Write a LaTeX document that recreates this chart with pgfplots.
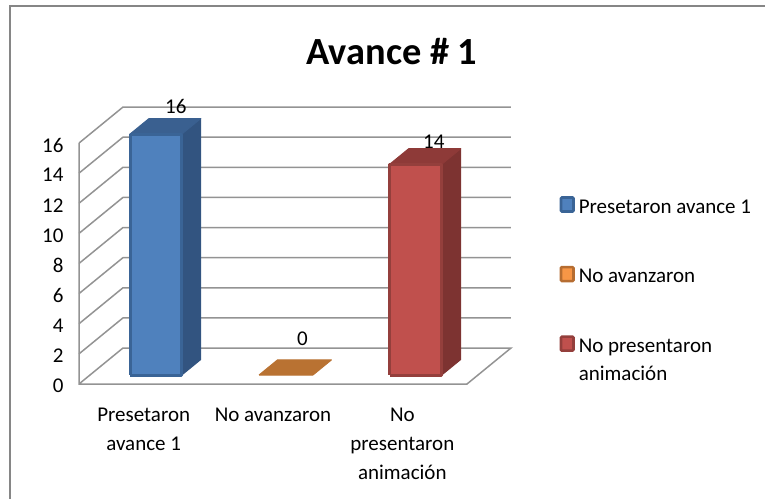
\documentclass[border=0pt]{standalone}
\usepackage{pgfplots}
\pgfplotsset{compat=1.18}
\usepackage{fontspec}
\setmainfont{Carlito}
\definecolor{wallline}{HTML}{939393}
\definecolor{framegray}{HTML}{868686}
\definecolor{blueF}{HTML}{4F81BD}
\definecolor{blueE}{HTML}{3A6496}
\definecolor{blueS}{HTML}{325480}
\definecolor{blueT}{HTML}{3A6090}
\definecolor{orangeF}{HTML}{F79646}
\definecolor{orangeE}{HTML}{B66D31}
\definecolor{orangeT}{HTML}{B97232}
\definecolor{redF}{HTML}{C0504D}
\definecolor{redE}{HTML}{943F3C}
\definecolor{redS}{HTML}{7D3331}
\definecolor{redT}{HTML}{8E3A38}

% one 3D column: x0, x1, value, front, edge, side, top
\newcommand{\column}[7]{%
  \addplot3[forget plot,fill=#6,draw=#6,line width=1pt,line join=round] coordinates {(#2,0.25,0)(#2,0.68,0)(#2,0.68,#3)(#2,0.25,#3)(#2,0.25,0)};
  \addplot3[forget plot,fill=#7,draw=#7,line width=1pt,line join=round] coordinates {(#1,0.25,#3)(#2,0.25,#3)(#2,0.68,#3)(#1,0.68,#3)(#1,0.25,#3)};
  \addplot3[forget plot,fill=#4,draw=#5,line width=3pt,line join=round] coordinates {(#1,0.25,0)(#2,0.25,0)(#2,0.25,#3)(#1,0.25,#3)(#1,0.25,0)};
}
% value label: x, value, vertical offset
\newcommand{\valuelabel}[3]{%
  \addplot3[forget plot,draw=none,mark=none,point meta=z,nodes near coords,
    nodes near coords style={font=\fontsize{21}{24}\selectfont,anchor=south,yshift=#3,
      /pgf/number format/assume math mode=true,inner sep=1pt}]
    coordinates {(#1,0.7,#2)};
}
\pgfplotsset{
  swatch/.style n args={2}{legend image code/.code={
    \draw[fill=#1,draw=#2,line width=2.6pt,rounded corners=1pt] (0pt,-7.5pt) rectangle (12.5pt,6.5pt);}},
}
% keeps the rows of the legend evenly spaced
\newcommand{\rowheight}{\rule{0pt}{19.6pt}}
\begin{document}
\begin{tikzpicture}[x=1pt,y=1pt]
\path[use as bounding box] (0,0) rectangle (765,498);
\draw[framegray,line width=2pt] (10,-5) -- (10,492) -- (775,492);
\node[font=\fontsize{38.4}{44}\selectfont\bfseries] at (392,446) {Avance \# 1};
\begin{axis}[
  at={(79pt,114pt)},anchor=origin,
  x={(129.33pt,0pt)},y={(44pt,36pt)},z={(0pt,15.06pt)},
  xmin=0,xmax=3,ymin=0,ymax=1,zmin=0,zmax=16,
  clip=false,
  axis line style={draw=none},
  major tick length=0pt,
  xtick={0.5,1.5,2.5},ytick=\empty,ztick={0,2,...,16},
  xticklabels={Presetaron\\avance 1,No avanzaron,No\\presentaron\\animación},
  /pgf/number format/assume math mode=true,
  tick label style={font=\fontsize{21}{29}\selectfont},
  xticklabel style={align=center,anchor=north,yshift=-20pt},
  zticklabel style={anchor=east,xshift=-12pt,yshift=-2pt},
  legend style={at={(axis cs:3.715,0,12.8)},anchor=north west,draw=none,fill=none,
    font=\fontsize{21}{28}\selectfont,row sep=44.5pt,inner sep=0pt,
    /tikz/every odd column/.style={column sep=2pt},
    cells={anchor=base west}},
  legend cell align=left,
]
% side wall and back wall rules
\pgfplotsinvokeforeach{2,4,...,16}{
  \addplot3[wallline,line width=1.5pt,forget plot] coordinates {(0,0,#1)(0,1,#1)(3,1,#1)};
}
% floor outline and front edge of the side wall
\addplot3[wallline,line width=1.5pt,forget plot] coordinates {(0,0,16)(0,0,0)(3,0,0)(3,1,0)(0,1,0)(0,0,0)};

\column{0.31}{0.71}{16}{blueF}{blueE}{blueS}{blueT}
\addplot3[forget plot,fill=orangeT,draw=orangeT,line width=1pt,line join=round] coordinates {(1.307,0.25,0)(1.724,0.25,0)(1.724,0.67,0)(1.307,0.67,0)(1.307,0.25,0)};
\column{2.318}{2.72}{14}{redF}{redE}{redS}{redT}

% value labels above the columns
\valuelabel{0.51}{16}{3pt}
\valuelabel{1.49}{0}{12pt}
\valuelabel{2.505}{14}{-2pt}

\addlegendimage{swatch={blueF}{blueE}}
\addlegendentry{\rowheight Presetaron avance 1}
\addlegendimage{swatch={orangeF}{orangeE}}
\addlegendentry{\rowheight No avanzaron}
\addlegendimage{swatch={redF}{redE}}
\addlegendentry{\begin{tabular}[t]{@{}l@{}}No presentaron\\animación\end{tabular}}
\end{axis}
\end{tikzpicture}
\end{document}
